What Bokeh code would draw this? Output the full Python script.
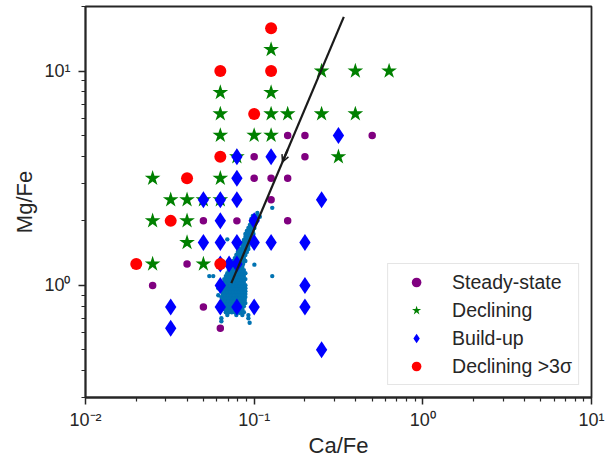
import numpy as np
from bokeh.plotting import figure
from bokeh.models import Range1d, CustomJSTickFormatter, Arrow, OpenHead, FixedTicker
from bokeh.embed import file_html
from bokeh.resources import INLINE

# ---------------- data ----------------
steady_x = [0.158, 0.200, 0.501, 0.100, 0.200, 0.100, 0.126, 0.158, 0.126,
            0.050, 0.079, 0.158, 0.040, 0.025, 0.050, 0.063]
steady_y = [5.01, 5.01, 5.01, 3.98, 3.98, 3.16, 3.16, 3.16, 2.51,
            2.0, 2.0, 2.0, 1.259, 1.0, 0.794, 0.631]

declining_x = [0.126, 0.251, 0.398, 0.631, 0.063, 0.126, 0.063, 0.126, 0.158,
               0.251, 0.398, 0.063, 0.100, 0.126, 0.079, 0.316, 0.025, 0.063,
               0.032, 0.040, 0.050, 0.063, 0.025, 0.040, 0.040, 0.025, 0.050]
declining_y = [12.59, 10.0, 10.0, 10.0, 7.94, 7.94, 6.31, 6.31, 6.31,
               6.31, 6.31, 5.01, 5.01, 5.01, 3.98, 3.98, 3.16, 3.16,
               2.51, 2.51, 2.51, 2.51, 2.0, 2.0, 1.585, 1.259, 1.259]

buildup_x = [0.316, 0.079, 0.126, 0.079, 0.050, 0.063, 0.079, 0.251, 0.063,
             0.100, 0.050, 0.063, 0.079, 0.100, 0.126, 0.200, 0.063, 0.071,
             0.079, 0.063, 0.200, 0.032, 0.063, 0.079, 0.100, 0.200, 0.032,
             0.251]
buildup_y = [5.01, 3.98, 3.98, 3.16, 2.51, 2.51, 2.51, 2.51, 2.0,
             2.0, 1.585, 1.585, 1.585, 1.585, 1.585, 1.585, 1.259, 1.259,
             1.259, 1.0, 1.0, 0.794, 0.794, 0.794, 0.794, 0.794, 0.631,
             0.501]

sigma_x = [0.126, 0.063, 0.126, 0.100, 0.063, 0.040, 0.032, 0.020, 0.063]
sigma_y = [15.85, 10.0, 10.0, 6.31, 3.98, 3.16, 2.0, 1.259, 1.259]

# dense cloud of small points (one row of Ca/Fe values per Mg/Fe value)
cloud_row_y = [0.727, 0.750, 0.775, 0.800, 0.827, 0.854, 0.882, 0.911, 0.940,
               0.971, 1.003, 1.036, 1.070, 1.105, 1.141, 1.179, 1.218, 1.257,
               1.299, 1.341, 1.386, 1.431, 1.478, 1.526, 1.577, 1.628, 1.682,
               1.737, 1.794, 1.853, 1.913, 1.976, 2.041, 2.108, 2.177]
cloud_row_x = [
    [0.0693, 0.0784, 0.0851, 0.0924],
    [0.0679, 0.0707, 0.0737, 0.0768, 0.0834, 0.0869],
    [0.0665, 0.0693, 0.0722, 0.0752, 0.0784, 0.0817, 0.0851],
    [0.0652, 0.0679, 0.0707, 0.0737, 0.0768, 0.0800, 0.0834, 0.0869],
    [0.0639, 0.0665, 0.0693, 0.0722, 0.0752, 0.0784, 0.0817, 0.0851, 0.0887],
    [0.0652, 0.0679, 0.0707, 0.0737, 0.0768, 0.0800, 0.0834, 0.0869, 0.0880],
    [0.0639, 0.0665, 0.0693, 0.0722, 0.0752, 0.0784, 0.0817, 0.0851, 0.0887],
    [0.0652, 0.0679, 0.0707, 0.0737, 0.0768, 0.0800, 0.0834, 0.0869, 0.0887],
    [0.0639, 0.0665, 0.0693, 0.0722, 0.0752, 0.0784, 0.0817, 0.0851, 0.0887],
    [0.0652, 0.0679, 0.0707, 0.0737, 0.0768, 0.0800, 0.0834, 0.0869, 0.0887],
    [0.0639, 0.0665, 0.0693, 0.0722, 0.0752, 0.0784, 0.0817, 0.0851, 0.0887],
    [0.0665, 0.0679, 0.0707, 0.0737, 0.0768, 0.0800, 0.0834, 0.0869],
    [0.0665, 0.0693, 0.0722, 0.0752, 0.0784, 0.0817, 0.0851, 0.0887],
    [0.0679, 0.0707, 0.0737, 0.0768, 0.0800, 0.0834, 0.0869],
    [0.0693, 0.0722, 0.0752, 0.0784, 0.0817, 0.0851, 0.0887],
    [0.0707, 0.0737, 0.0768, 0.0800, 0.0834, 0.0869],
    [0.0722, 0.0752, 0.0784, 0.0817, 0.0851],
    [0.0737, 0.0768, 0.0800, 0.0834, 0.0860],
    [0.0752, 0.0784, 0.0817, 0.0851, 0.0887],
    [0.0768, 0.0800, 0.0834, 0.0869],
    [0.0784, 0.0817, 0.0851, 0.0887],
    [0.0800, 0.0834, 0.0869, 0.0905],
    [0.0817, 0.0851, 0.0887, 0.0924],
    [0.0851, 0.0887, 0.0924],
    [0.0851, 0.0887, 0.0924, 0.0950],
    [0.0869, 0.0905, 0.0943],
    [0.0887, 0.0924, 0.0962],
    [0.0887, 0.0924, 0.0962, 0.0990],
    [0.0905, 0.0943, 0.0982],
    [0.0924, 0.0962, 0.1003],
    [0.0943, 0.0982],
    [0.0962, 0.1003],
    [0.0962, 0.1003, 0.1045],
    [0.0982, 0.1024],
    [0.1045],
]
cloud_extra_x = [0.0542, 0.0572, 0.0693, 0.1003, 0.128, 0.128, 0.108, 0.0639,
                 0.0639, 0.0924, 0.094, 0.0817, 0.0613, 0.0613]
cloud_extra_y = [1.105, 1.105, 1.64, 1.25, 1.105, 2.30, 2.09, 0.703,
                 0.681, 0.703, 0.67, 0.745, 0.90, 0.97]

# trend line with arrow
line_x = [0.0732, 0.340]
line_y = [1.025, 17.9]

# axis ticks
x_major_ticks = [0.01, 0.1, 1, 10]
x_minor_ticks = [0.02, 0.03, 0.04, 0.05, 0.06, 0.07, 0.08, 0.09,
                 0.2, 0.3, 0.4, 0.5, 0.6, 0.7, 0.8, 0.9,
                 2, 3, 4, 5, 6, 7, 8, 9]
y_major_ticks = [1, 10]
y_minor_ticks = [0.3, 0.4, 0.5, 0.6, 0.7, 0.8, 0.9,
                 2, 3, 4, 5, 6, 7, 8, 9, 20]

# ---------------- build ----------------
cloud_x = [x for row in cloud_row_x for x in row] + cloud_extra_x
cloud_y = [y for y, row in zip(cloud_row_y, cloud_row_x) for _ in row] + cloud_extra_y

FONT = "Liberation Sans"
TXT = "#262626"

p = figure(width=606, height=460, x_axis_type="log", y_axis_type="log",
           x_range=Range1d(0.01, 10), y_range=Range1d(0.3, 20),
           output_backend="svg", toolbar_location=None,
           min_border_left=85, min_border_right=15, min_border_top=6,
           min_border_bottom=61, background_fill_color="white",
           border_fill_color="white")
p.grid.visible = False
p.outline_line_color = TXT
p.outline_line_width = 1.8
p.outline_line_alpha = 1.0

p.scatter(cloud_x, cloud_y, marker="circle", size=4.4,
          fill_color="#0173B2", line_color=None)

r1 = p.scatter(steady_x, steady_y, marker="circle", size=7.5,
               fill_color="purple", line_color=None, legend_label="Steady-state")
r2 = p.scatter(declining_x, declining_y, marker="star", size=16.5,
               fill_color="green", line_color=None, legend_label="Declining")
r3 = p.scatter(buildup_x, buildup_y, marker="diamond", size=17,
               fill_color="blue", line_color=None, legend_label="Build-up")
r4 = p.scatter(sigma_x, sigma_y, marker="circle", size=12,
               fill_color="red", line_color=None, legend_label="Declining >3σ")

p.line(line_x, line_y, line_color="#1a1a1a", line_width=2.2)
lx = np.log10(line_x)
ly = np.log10(line_y)
t0, t1 = 0.50, 0.455
arrow = Arrow(end=OpenHead(size=7, line_color="#1a1a1a", line_width=1.5),
              x_start=10 ** (lx[0] + t0 * (lx[1] - lx[0])),
              y_start=10 ** (ly[0] + t0 * (ly[1] - ly[0])),
              x_end=10 ** (lx[0] + t1 * (lx[1] - lx[0])),
              y_end=10 ** (ly[0] + t1 * (ly[1] - ly[0])),
              line_color="#1a1a1a", line_width=2.2)
p.add_layout(arrow)

fmt = CustomJSTickFormatter(code="""
const sup = {"-": "\\u207b", "0": "\\u2070", "1": "\\u00b9", "2": "\\u00b2",
             "3": "\\u00b3", "4": "\\u2074", "5": "\\u2075", "6": "\\u2076",
             "7": "\\u2077", "8": "\\u2078", "9": "\\u2079"};
const e = Math.round(Math.log10(tick));
let s = "";
for (const ch of String(e)) { s += sup[ch]; }
return "10" + s;
""")

p.xaxis[0].ticker = FixedTicker(ticks=x_major_ticks, minor_ticks=x_minor_ticks)
p.yaxis[0].ticker = FixedTicker(ticks=y_major_ticks, minor_ticks=y_minor_ticks)

for ax in (p.xaxis[0], p.yaxis[0]):
    ax.formatter = fmt
    ax.axis_line_color = TXT
    ax.axis_line_width = 1.8
    ax.major_tick_line_color = TXT
    ax.minor_tick_line_color = TXT
    ax.major_tick_line_width = 1.5
    ax.minor_tick_line_width = 1.2
    ax.major_tick_out = 7
    ax.major_tick_in = 0
    ax.minor_tick_out = 4
    ax.minor_tick_in = 0
    ax.major_label_text_font = FONT
    ax.major_label_text_font_size = "18px"
    ax.major_label_text_color = TXT
    ax.axis_label_text_font = FONT
    ax.axis_label_text_font_size = "22px"
    ax.axis_label_text_font_style = "normal"
    ax.axis_label_text_color = TXT

p.xaxis.axis_label = "Ca/Fe"
p.yaxis.axis_label = "Mg/Fe"
p.xaxis.major_label_standoff = 5
p.xaxis.axis_label_standoff = 0
p.yaxis.major_label_standoff = 8
p.yaxis.axis_label_standoff = 4

lg = p.legend[0]
lg.location = "bottom_right"
lg.margin = 12
lg.padding = 6
lg.spacing = 4
lg.label_height = 20
lg.glyph_height = 24
lg.glyph_width = 44
lg.label_standoff = 14
lg.label_text_font = FONT
lg.label_text_font_size = "19.5px"
lg.label_text_color = TXT
lg.border_line_color = "#cccccc"
lg.border_line_width = 1
lg.background_fill_color = "white"
lg.background_fill_alpha = 0.8

open("out.html", "w").write(file_html(p, INLINE))
